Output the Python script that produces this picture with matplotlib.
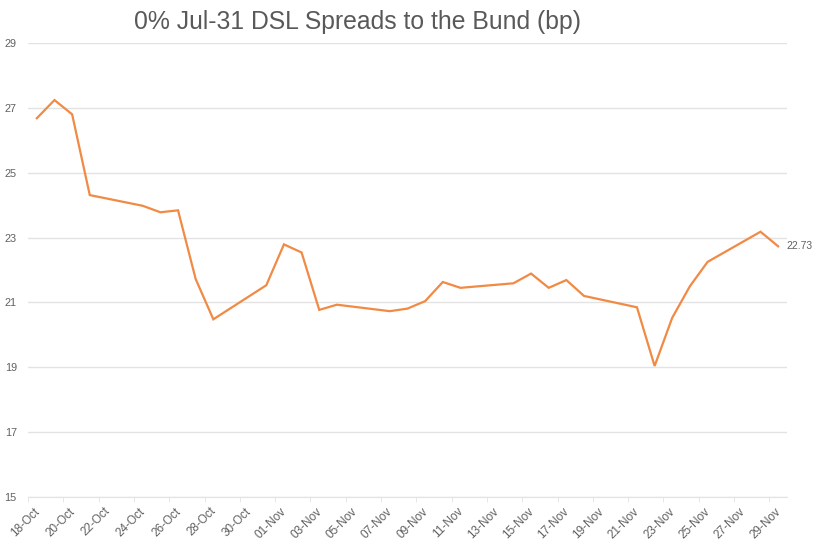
import matplotlib
matplotlib.use("Agg")
import matplotlib.pyplot as plt
import matplotlib.dates as mdates
import pandas as pd

plt.rcParams['font.family'] = ['Liberation Sans', 'DejaVu Sans']

dates = ["2022-10-18", "2022-10-19", "2022-10-20", "2022-10-21",
         "2022-10-24", "2022-10-25", "2022-10-26", "2022-10-27", "2022-10-28",
         "2022-10-31", "2022-11-01", "2022-11-02", "2022-11-03", "2022-11-04",
         "2022-11-07", "2022-11-08", "2022-11-09", "2022-11-10", "2022-11-11",
         "2022-11-14", "2022-11-15", "2022-11-16", "2022-11-17", "2022-11-18",
         "2022-11-21", "2022-11-22", "2022-11-23", "2022-11-24", "2022-11-25",
         "2022-11-28", "2022-11-29"]
spread = [26.68, 27.24, 26.80, 24.31,
          23.98, 23.78, 23.84, 21.72, 20.48,
          21.53, 22.79, 22.54, 20.77, 20.93,
          20.73, 20.81, 21.04, 21.63, 21.45,
          21.59, 21.89, 21.45, 21.69, 21.20,
          20.85, 19.04, 20.53, 21.50, 22.25,
          23.18, 22.73]
yticks = [15, 17, 19, 21, 23, 25, 27, 29]

grey = "#606060"
grid_c = "#e3e3e3"

d = pd.to_datetime(dates)
x = mdates.date2num(d) + 0.5  # points sit in the middle of each day slot

fig = plt.figure(figsize=(8.14, 5.43), dpi=100)
ax = fig.add_axes([28 / 814, 46 / 543, 759 / 814, 454 / 543])

ax.plot(x, spread, color="#f08a44", lw=1.6, solid_joinstyle="miter")
ax.text(x[-1] + 0.45, spread[-1], f"{spread[-1]:.2f}", color=grey,
        fontsize=7.5, va="center", ha="left")

tick_dates = pd.date_range("2022-10-18", "2022-11-29", freq="2D")
tick_num = mdates.date2num(tick_dates)
# tick marks on the dates (minor), labels slightly to the right (major)
ax.set_xticks(tick_num, minor=True)
ax.set_xticks(tick_num + 0.3)
ax.set_xticklabels([t.strftime("%d-%b") for t in tick_dates],
                   rotation=45, ha="right", rotation_mode="anchor")
ax.set_xlim(mdates.date2num(pd.Timestamp("2022-10-18")),
            mdates.date2num(pd.Timestamp("2022-11-30")))

ax.set_yticks(yticks)
ax.set_ylim(15, 29)
ax.grid(axis="y", color=grid_c, lw=1)
ax.set_axisbelow(True)

for s in ["top", "right", "left"]:
    ax.spines[s].set_visible(False)
ax.spines["bottom"].set_color(grid_c)
ax.tick_params(axis="y", length=0, pad=8, labelsize=7.8, labelcolor=grey)
ax.tick_params(axis="x", which="major", length=0, labelsize=8.5,
               labelcolor=grey, pad=6)
ax.tick_params(axis="x", which="minor", length=3.5, color=grid_c)

fig.text(357 / 814, 1 - 22 / 543, "0% Jul-31 DSL Spreads to the Bund (bp)",
         ha="center", va="center", fontsize=17.8, color="#595959")

fig.savefig("out.png", dpi=100)
